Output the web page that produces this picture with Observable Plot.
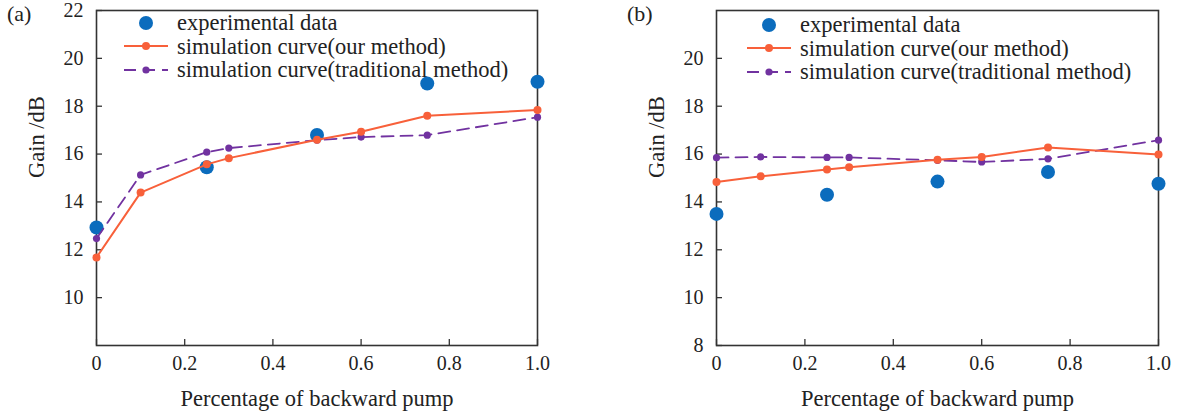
<!DOCTYPE html>
<html>
<head>
<meta charset="utf-8">
<script src="https://cdn.jsdelivr.net/npm/d3@7"></script>
<script src="https://cdn.jsdelivr.net/npm/@observablehq/plot@0.6"></script>
<style>
  body { margin: 0; background: #fff; }
  #wrap { position: relative; width: 1178px; height: 414px; display: flex; font-family: "Liberation Serif", "Times New Roman", serif; color: #222; }
  .panel { position: relative; width: 589px; height: 414px; }
  .tag { position: absolute; font-size: 22px; }
  .legend { position: absolute; font-size: 22.5px; line-height: 23.5px; }
  .legend .row { display: flex; align-items: center; white-space: nowrap; }
  .legend svg { margin-right: 9px; }
</style>
</head>
<body>
<div id="wrap"></div>
<script>
// ---- data ----
const pumpExp = [0, 0.25, 0.5, 0.75, 1.0];
const pumpSim = [0, 0.1, 0.25, 0.3, 0.5, 0.6, 0.75, 1.0];

const expA  = [12.93, 15.45, 16.8, 18.95, 19.02];
const ourA  = [11.68, 14.39, 15.57, 15.83, 16.6, 16.93, 17.6, 17.84];
const tradA = [12.47, 15.13, 16.08, 16.25, 16.58, 16.71, 16.79, 17.54];

const expB  = [13.5, 14.3, 14.85, 15.25, 14.76];
const ourB  = [14.83, 15.07, 15.36, 15.45, 15.76, 15.88, 16.27, 15.98];
const tradB = [15.85, 15.88, 15.86, 15.86, 15.74, 15.67, 15.8, 16.58];

const xTicks  = [0, 0.2, 0.4, 0.6, 0.8, 1.0];
const yTicksA = [10, 12, 14, 16, 18, 20, 22];
const yTicksB = [8, 10, 12, 14, 16, 18, 20];

const seriesNames = ["experimental data", "simulation curve(our method)", "simulation curve(traditional method)"];
const panelTags = ["(a)", "(b)"];
const xLabel = "Percentage of backward pump";
const yLabel = "Gain /dB";

const BLUE = "#0b6cbd", ORANGE = "#f8603a", PURPLE = "#7132a0", AXIS = "#333";
const FONT = '"Liberation Serif", "Times New Roman", serif';

function makePlot(exp, our, trad, yTicks, ml, mr) {
  const W = 589, H = 414, mt = 10, mb = 69;
  const pw = W - ml - mr, ph = H - mt - mb;
  const expData = pumpExp.map((x, i) => ({x, y: exp[i]}));
  const ourData = pumpSim.map((x, i) => ({x, y: our[i]}));
  const tradData = pumpSim.map((x, i) => ({x, y: trad[i]}));
  return Plot.plot({
    width: W, height: H,
    marginLeft: ml, marginRight: mr, marginTop: mt, marginBottom: mb,
    style: {fontFamily: FONT, fontSize: "20px", color: "#222", background: "white", overflow: "visible"},
    x: {domain: [0, 1], label: null},
    y: {domain: [8, 22], label: null},
    marks: [
      Plot.axisX(xTicks, {tickSize: 0, tickPadding: 10, tickFormat: d => d === 0 ? "0" : d.toFixed(1), fill: "#222"}),
      Plot.axisY(yTicks, {tickSize: 0, tickPadding: 13, fill: "#222"}),
      Plot.tickX(xTicks, {x: d => d, insetTop: ph - 6, stroke: AXIS, strokeWidth: 1.3}),
      Plot.tickY(yTicks, {y: d => d, insetRight: pw - 6, stroke: AXIS, strokeWidth: 1.3}),
      Plot.frame({stroke: AXIS, strokeWidth: 1.6}),
      Plot.text([xLabel], {frameAnchor: "bottom", dy: 53, lineAnchor: "middle", fontSize: 22.5, fill: "#222"}),
      Plot.text([yLabel], {frameAnchor: "left", dx: -60, rotate: -90, lineAnchor: "middle", fontSize: 22.5, fill: "#222"}),
      Plot.dot(expData, {x: "x", y: "y", r: 7, fill: BLUE, stroke: "none"}),
      Plot.line(tradData, {x: "x", y: "y", stroke: PURPLE, strokeWidth: 1.8, strokeDasharray: "12,7"}),
      Plot.dot(tradData, {x: "x", y: "y", r: 3.6, fill: PURPLE, stroke: "none"}),
      Plot.line(ourData, {x: "x", y: "y", stroke: ORANGE, strokeWidth: 2}),
      Plot.dot(ourData, {x: "x", y: "y", r: 4, fill: ORANGE, stroke: "none"})
    ]
  });
}

function legendSwatch(kind) {
  const ns = "http://www.w3.org/2000/svg";
  const s = document.createElementNS(ns, "svg");
  s.setAttribute("width", 44); s.setAttribute("height", 16);
  if (kind === 0) {
    s.innerHTML = `<circle cx="22" cy="8" r="7" fill="${BLUE}"/>`;
  } else if (kind === 1) {
    s.innerHTML = `<line x1="0" x2="44" y1="8" y2="8" stroke="${ORANGE}" stroke-width="2"/><circle cx="22" cy="8" r="4" fill="${ORANGE}"/>`;
  } else {
    s.innerHTML = `<line x1="0" x2="44" y1="8" y2="8" stroke="${PURPLE}" stroke-width="1.8" stroke-dasharray="12,7"/><circle cx="22" cy="8" r="3.6" fill="${PURPLE}"/>`;
  }
  return s;
}

function addPanel(tag, chart, tagPos, legPos) {
  const wrap = document.getElementById("wrap");
  const p = document.createElement("div");
  p.className = "panel";
  p.appendChild(chart);
  const t = document.createElement("div");
  t.className = "tag"; t.textContent = tag;
  t.style.left = tagPos[0] + "px"; t.style.top = tagPos[1] + "px";
  p.appendChild(t);
  const lg = document.createElement("div");
  lg.className = "legend";
  lg.style.left = legPos[0] + "px"; lg.style.top = legPos[1] + "px";
  seriesNames.forEach((name, i) => {
    const row = document.createElement("div");
    row.className = "row";
    row.appendChild(legendSwatch(i));
    const sp = document.createElement("span"); sp.textContent = name;
    row.appendChild(sp);
    lg.appendChild(row);
  });
  p.appendChild(lg);
  wrap.appendChild(p);
}

addPanel(panelTags[0], makePlot(expA, ourA, tradA, yTicksA, 96, 52), [7, 1], [124, 11]);
addPanel(panelTags[1], makePlot(expB, ourB, tradB, yTicksB, 127, 20), [38, 1], [158, 13]);
</script>
</body>
</html>
